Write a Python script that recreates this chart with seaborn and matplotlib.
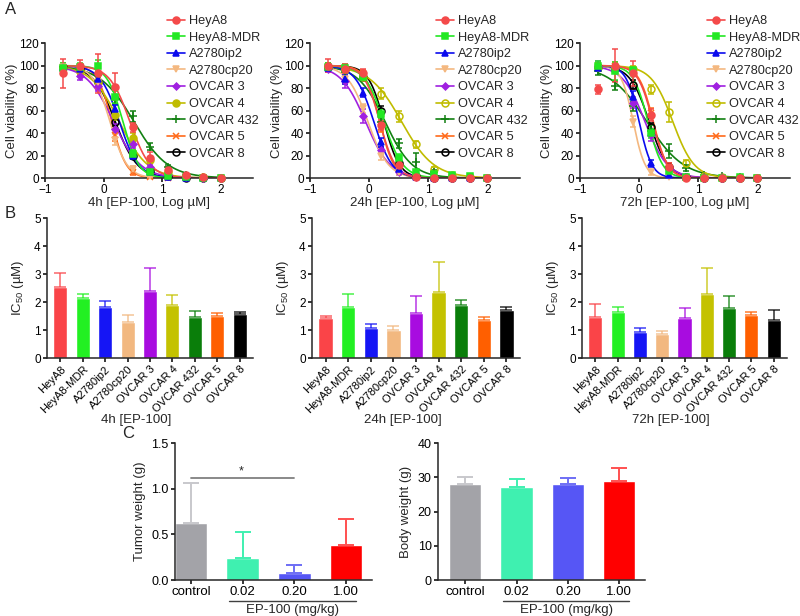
import numpy as np
import pandas as pd
import seaborn as sns
import matplotlib
matplotlib.use('Agg')
import matplotlib.pyplot as plt
from matplotlib.lines import Line2D

# ---- data ----
cell_lines = ['HeyA8', 'HeyA8-MDR', 'A2780ip2', 'A2780cp20', 'OVCAR 3',
              'OVCAR 4', 'OVCAR 432', 'OVCAR 5', 'OVCAR 8']
log_dose = [-0.7, -0.4, -0.1, 0.2, 0.5, 0.8, 1.1, 1.4, 1.7, 2.0]

# mean viability (%) per cell line, same order as cell_lines
viab_4h = [
    [93, 100, 93, 81, 45, 18, 7, 3, 1, 0],
    [98, 99, 100, 72, 21, 5, 2, 1, 0, 0],
    [98, 97, 88, 61, 20, 5, 1, 0, 0, 0],
    [99, 97, 85, 34, 8, 2, 1, 0, 0, 0],
    [97, 91, 82, 44, 30, 10, 3, 1, 0, 0],
    [98, 95, 85, 56, 36, 16, 5, 2, 1, 0],
    [99, 95, 86, 70, 55, 28, 10, 3, 1, 0],
    [98, 95, 84, 38, 5, 1, 0, 0, 0, 0],
    [99, 97, 85, 50, 20, 6, 2, 0, 0, 0],
]
err_4h = [
    [13, 5, 17, 12, 4, 5, 3, 1, 1, 1],
    [4, 3, 5, 5, 4, 2, 1, 1, 1, 1],
    [3, 3, 3, 4, 3, 1, 1, 1, 1, 1],
    [3, 3, 3, 5, 3, 1, 1, 1, 1, 1],
    [3, 4, 5, 4, 3, 2, 1, 1, 1, 1],
    [3, 3, 4, 4, 4, 3, 1, 1, 1, 1],
    [3, 4, 4, 4, 5, 3, 2, 1, 1, 1],
    [3, 3, 4, 5, 2, 1, 1, 1, 1, 1],
    [3, 3, 4, 4, 3, 2, 1, 1, 1, 1],
]
viab_24h = [
    [100, 97, 93, 47, 12, 1, 0, 0, 0, 0],
    [99, 98, 90, 57, 18, 5, 4, 3, 2, 0],
    [98, 88, 76, 32, 8, 1, 0, 0, 0, 0],
    [98, 88, 62, 20, 5, 1, 0, 0, 0, 0],
    [97, 86, 55, 25, 5, 1, 0, 0, 0, 0],
    [99, 97, 90, 75, 55, 30, 8, 3, 1, 0],
    [98, 94, 90, 50, 31, 14, 5, 2, 1, 0],
    [99, 97, 93, 45, 8, 1, 0, 0, 0, 0],
    [99, 97, 90, 60, 13, 2, 0, 0, 0, 0],
]
err_24h = [
    [6, 4, 4, 4, 3, 1, 1, 1, 1, 1],
    [3, 3, 3, 4, 3, 2, 1, 1, 1, 1],
    [3, 4, 4, 4, 2, 1, 1, 1, 1, 1],
    [3, 4, 4, 4, 2, 1, 1, 1, 1, 1],
    [3, 6, 6, 3, 2, 1, 1, 1, 1, 1],
    [3, 3, 3, 5, 5, 3, 2, 1, 1, 1],
    [3, 3, 3, 4, 4, 8, 2, 1, 1, 1],
    [3, 3, 3, 4, 3, 1, 1, 1, 1, 1],
    [3, 3, 3, 4, 3, 1, 1, 1, 1, 1],
]
viab_72h = [
    [79, 100, 93, 56, 10, 0, 0, 0, 0, 0],
    [100, 95, 96, 40, 6, 1, 0, 0, 1, 0],
    [98, 97, 72, 13, 3, 1, 1, 1, 0, 0],
    [98, 96, 50, 5, 1, 0, 0, 0, 0, 0],
    [100, 98, 67, 38, 8, 1, 0, 0, 0, 0],
    [99, 99, 97, 79, 59, 13, 2, 1, 0, 0],
    [95, 82, 64, 42, 24, 9, 3, 2, 1, 0],
    [99, 100, 95, 58, 10, 0, 0, 0, 0, 0],
    [99, 98, 83, 45, 10, 1, 0, 0, 0, 0],
]
err_72h = [
    [4, 15, 11, 5, 3, 1, 1, 1, 1, 1],
    [4, 8, 3, 4, 2, 1, 1, 1, 1, 1],
    [3, 3, 5, 3, 2, 1, 1, 1, 1, 1],
    [3, 3, 5, 2, 1, 1, 1, 1, 1, 1],
    [4, 3, 5, 5, 3, 1, 1, 1, 1, 1],
    [3, 3, 3, 4, 9, 3, 1, 1, 1, 1],
    [3, 4, 4, 5, 6, 3, 1, 1, 1, 1],
    [3, 3, 3, 4, 3, 1, 1, 1, 1, 1],
    [3, 3, 4, 4, 3, 1, 1, 1, 1, 1],
]
# fitted dose-response parameters (log IC50, hill slope)
logic50_4h = [0.45, 0.33, 0.27, 0.11, 0.17, 0.27, 0.52, 0.14, 0.20]
hill_4h = [2.5, 3.2, 2.65, 3.0, 1.9, 1.8, 1.5, 3.5, 2.3]
logic50_24h = [0.18, 0.25, 0.08, -0.02, -0.06, 0.55, 0.27, 0.18, 0.25]
hill_24h = [3.3, 2.7, 2.8, 2.5, 2.1, 1.6, 1.9, 3.6, 3.3]
logic50_72h = [0.23, 0.15, 0.0, -0.10, 0.10, 0.57, 0.13, 0.24, 0.17]
hill_72h = [3.5, 3.5, 4.0, 4.3, 2.3, 2.4, 1.4, 3.6, 2.7]

# IC50 (uM) bars
ic50_4h = [2.55, 2.15, 1.83, 1.27, 2.40, 1.90, 1.45, 1.50, 1.58]
ic50_4h_err = [0.50, 0.15, 0.20, 0.26, 0.82, 0.35, 0.23, 0.10, 0.07]
ic50_24h = [1.42, 1.83, 1.07, 1.00, 1.60, 2.37, 1.88, 1.37, 1.72]
ic50_24h_err = [0.08, 0.44, 0.15, 0.13, 0.62, 1.05, 0.19, 0.09, 0.09]
ic50_72h = [1.45, 1.65, 0.92, 0.86, 1.44, 2.28, 1.78, 1.52, 1.37]
ic50_72h_err = [0.48, 0.18, 0.16, 0.11, 0.36, 0.92, 0.42, 0.13, 0.35]

# in vivo
groups = ['control', '0.02', '0.20', '1.00']
tumor_weight = [0.62, 0.24, 0.08, 0.38]
tumor_err = [0.44, 0.29, 0.08, 0.29]
body_weight = [28.0, 27.2, 28.0, 29.0]
body_err = [2.0, 2.4, 1.8, 3.7]

# ---- styles ----
line_colors = ['#f44a4a', '#22e822', '#0a0aee', '#f4b880', '#a020e0',
               '#c0bc00', '#128012', '#ff6a1a', '#000000']
bar_colors = ['#fa4448', '#22f022', '#1515f5', '#f2b880', '#a80ce0',
              '#c4c200', '#0a7e0a', '#ff5f00', '#000000']
markers = ['o', 's', '^', 'v', 'D', 'o', '+', 'x', 'o']
msizes = [5, 4.5, 5, 5, 3.5, 5, 6, 5, 5]
group_colors = ['#a3a3a8', '#3ff0b0', '#5656f5', '#ff0000']
group_err_colors = ['#c8c8cc', '#3ff0b0', '#6e6ef5', '#ff5050']

sns.set_style("ticks")
plt.rcParams['font.family'] = ['Liberation Sans', 'DejaVu Sans']
plt.rcParams['mathtext.fontset'] = 'custom'
plt.rcParams['mathtext.rm'] = 'Liberation Sans'
plt.rcParams['axes.linewidth'] = 1.1
plt.rcParams['xtick.major.width'] = 1.1
plt.rcParams['ytick.major.width'] = 1.1
plt.rcParams['xtick.major.size'] = 3
plt.rcParams['ytick.major.size'] = 3
plt.rcParams['xtick.major.pad'] = 1.5
plt.rcParams['ytick.major.pad'] = 1.5

fig = plt.figure(figsize=(8, 6.16), dpi=100)


def style_axes(ax):
    sns.despine(ax=ax)
    ax.tick_params(labelsize=8.5, colors='black')


def curve_panel(rect, vals, errs, logic50, hill, xlabel, ov4_open, leg_x):
    ax = fig.add_axes(rect)
    xs = np.linspace(log_dose[0], log_dose[-1], 200)
    handles = []
    for i in reversed(range(len(cell_lines))):
        c = line_colors[i]
        open_m = (i == 8) or (i == 5 and ov4_open)
        fc = 'none' if open_m else c
        ys = 100 / (1 + 10 ** ((xs - logic50[i]) * hill[i]))
        sns.lineplot(x=xs, y=ys, color=c, lw=1.2, ax=ax)
        ax.errorbar(log_dose, vals[i], yerr=errs[i], fmt=markers[i], color=c,
                    mfc=fc, mec=c, ms=msizes[i], mew=1.1, elinewidth=1.1,
                    capsize=2, capthick=1.1, clip_on=False, zorder=3)
    for i in range(len(cell_lines)):
        c = line_colors[i]
        open_m = (i == 8) or (i == 5 and ov4_open)
        handles.append(Line2D([0], [0], color=c, lw=1.2, marker=markers[i],
                              ms=msizes[i], mfc='none' if open_m else c,
                              mec=c, mew=1.1, label=cell_lines[i]))
    ax.set_xlim(-1, 2.55)
    ax.set_ylim(0, 120)
    ax.set_xticks([-1, 0, 1, 2])
    ax.set_yticks(range(0, 121, 20))
    ax.set_xlabel(xlabel, fontsize=9.5, labelpad=0.5)
    ax.set_ylabel('Cell viability (%)', fontsize=9.5, labelpad=0.5)
    style_axes(ax)
    fig.legend(handles=handles, loc='upper left',
               bbox_to_anchor=(leg_x / 800, 1 - 15 / 616), frameon=False,
               fontsize=9.2, borderpad=0, borderaxespad=0, handlelength=1.4,
               handletextpad=0.35, labelspacing=0.36)
    return ax


def ic50_panel(rect, vals, errs, xlabel):
    ax = fig.add_axes(rect)
    df = pd.DataFrame({'line': cell_lines, 'ic50': vals})
    sns.barplot(data=df, x='line', y='ic50', hue='line', order=cell_lines,
                hue_order=cell_lines, palette=bar_colors, width=0.63,
                saturation=1, legend=False, errorbar=None, ax=ax)
    for i in range(len(cell_lines)):
        ax.errorbar(i, vals[i], yerr=[[0], [errs[i]]], fmt='none',
                    ecolor=bar_colors[i], alpha=0.75, elinewidth=1.2,
                    capsize=4, capthick=1.2, zorder=3)
    ax.set_xlim(-0.6, 8.6)
    ax.set_ylim(0, 5)
    ax.set_yticks(range(6))
    ax.set_xticks(range(len(cell_lines)))
    ax.set_xticklabels(cell_lines, rotation=45, ha='right',
                       rotation_mode='anchor', fontsize=8)
    ax.set_xlabel(xlabel, fontsize=9.5)
    ax.xaxis.set_label_coords(0.435, -0.4)
    ax.set_ylabel(r'IC$_{\mathregular{50}}$ (µM)', fontsize=9.5, labelpad=6)
    style_axes(ax)
    ax.tick_params(axis='x', labelsize=8)
    return ax


def group_panel(rect, vals, errs, ylabel, xlim, ylim, yticks):
    ax = fig.add_axes(rect)
    df = pd.DataFrame({'group': groups, 'w': vals})
    sns.barplot(data=df, x='group', y='w', hue='group', order=groups,
                hue_order=groups, palette=group_colors, width=0.63,
                saturation=1, legend=False, errorbar=None, ax=ax)
    for i in range(len(groups)):
        ax.errorbar(i, vals[i], yerr=[[0], [errs[i]]], fmt='none',
                    ecolor=group_err_colors[i], elinewidth=1.4,
                    capsize=6, capthick=1.4, zorder=3)
    ax.set_xlim(*xlim)
    ax.set_ylim(*ylim)
    ax.set_yticks(yticks)
    ax.set_xlabel('')
    ax.set_ylabel(ylabel, fontsize=9.5)
    style_axes(ax)
    ax.tick_params(axis='x', labelsize=9.5)
    ax.tick_params(axis='y', labelsize=9)
    tr = ax.get_xaxis_transform()
    ax.plot([0.73, 3.19], [-0.153, -0.153], transform=tr, clip_on=False,
            color='#404040', lw=1)
    ax.text(1.97, -0.22, 'EP-100 (mg/kg)', transform=tr, ha='center',
            va='center', fontsize=9.5)
    return ax


curve_panel([0.05625, 0.711, 0.26, 0.219], viab_4h, err_4h, logic50_4h,
            hill_4h, '4h [EP-100, Log µM]', False, 167)
curve_panel([0.3875, 0.711, 0.2625, 0.219], viab_24h, err_24h, logic50_24h,
            hill_24h, '24h [EP-100, Log µM]', True, 436)
curve_panel([0.725, 0.711, 0.2625, 0.219], viab_72h, err_72h, logic50_72h,
            hill_72h, '72h [EP-100, Log µM]', True, 707)

ic50_panel([0.05875, 0.4188, 0.2575, 0.2273], ic50_4h, ic50_4h_err, '4h [EP-100]')
ic50_panel([0.39, 0.4188, 0.26, 0.2273], ic50_24h, ic50_24h_err, '24h [EP-100]')
ic50_panel([0.7275, 0.4188, 0.2563, 0.2273], ic50_72h, ic50_72h_err, '72h [EP-100]')

axt = group_panel([0.21875, 0.05844, 0.24625, 0.2224], tumor_weight, tumor_err,
                  'Tumor weight (g)', (-0.31, 3.5), (0, 1.5), [0, 0.5, 1.0, 1.5])
axt.set_yticklabels(['0.0', '0.5', '1.0', '1.5'])
axt.plot([0, 2], [1.117, 1.117], color='#808080', lw=1.3)
axt.text(0.97, 1.125, '*', ha='center', va='bottom', fontsize=9)

group_panel([0.5475, 0.05844, 0.25875, 0.2224], body_weight, body_err,
            'Body weight (g)', (-0.53, 3.5), (0, 40), [0, 10, 20, 30, 40])

fig.text(5 / 800, 1 - 9 / 616, 'A', fontsize=12, ha='left', va='center')
fig.text(5 / 800, 1 - 213 / 616, 'B', fontsize=12, ha='left', va='center')
fig.text(122 / 800, 1 - 433 / 616, 'C', fontsize=12, ha='left', va='center')

fig.savefig('out.png', dpi=100)
plt.close(fig)
